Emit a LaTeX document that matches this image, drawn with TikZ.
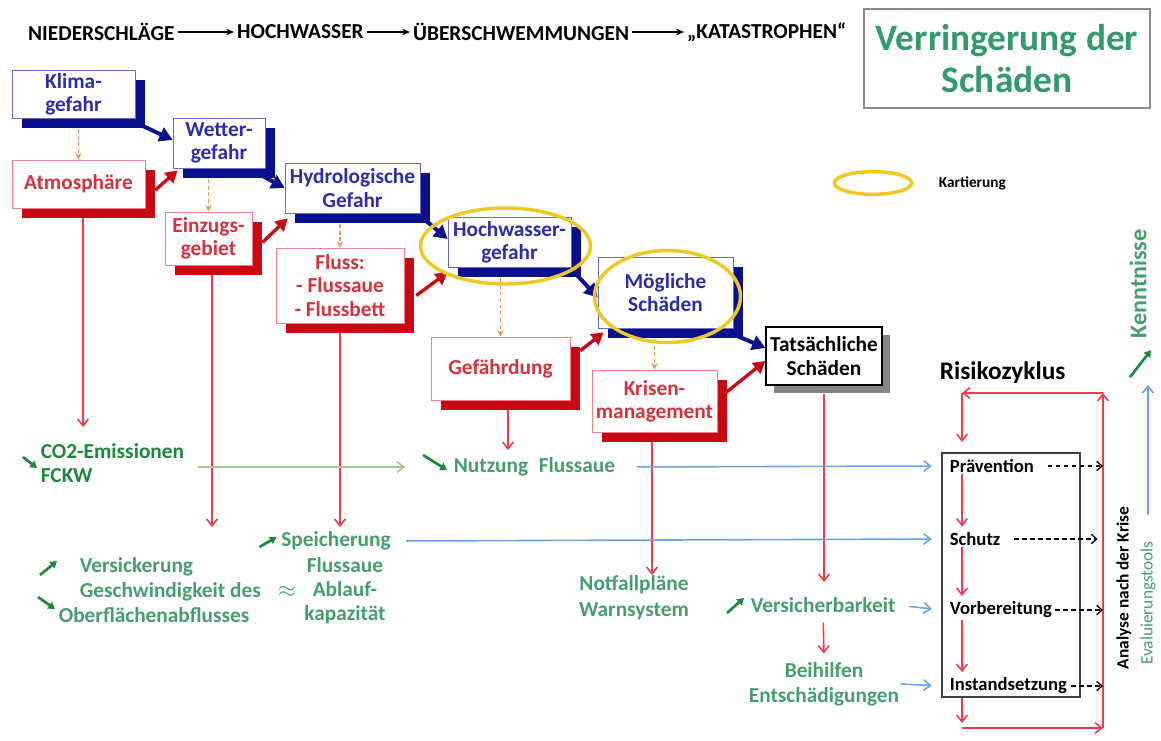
\documentclass[tikz,border=0pt]{standalone}
\usepackage{fontspec}
\setmainfont{Carlito}
\usetikzlibrary{arrows.meta,shadows,shapes.geometric}

\definecolor{chainblue}{RGB}{10,16,140}
\definecolor{bluetxt}{RGB}{45,45,170}
\definecolor{chainred}{RGB}{200,8,18}
\definecolor{redtxt}{RGB}{215,50,60}
\definecolor{redrim}{RGB}{240,130,135}
\definecolor{redline}{RGB}{238,60,75}
\definecolor{orangedash}{RGB}{240,150,85}
\definecolor{greentxt}{RGB}{70,158,112}
\definecolor{darkgreen}{RGB}{30,135,60}
\definecolor{titlegreen}{RGB}{50,155,105}
\definecolor{skyline}{RGB}{105,165,235}
\definecolor{oliveline}{RGB}{165,200,145}
\definecolor{kartyellow}{RGB}{238,200,35}

\tikzset{every picture/.style={line width=0.75pt}}
\tikzset{
	bluebox/.style={draw=bluetxt!70, line width=0.5pt, fill=white, text=bluetxt, align=center, inner sep=0pt,
		font=\fontsize{16}{17.5}\selectfont\bfseries,
		drop shadow={shadow xshift=7.5pt, shadow yshift=-7.5pt, fill=chainblue, opacity=1}},
	redbox/.style={draw=redrim, line width=0.5pt, fill=white, text=redtxt, align=center, inner sep=0pt,
		font=\fontsize{16}{17.5}\selectfont\bfseries,
		drop shadow={shadow xshift=7.5pt, shadow yshift=-7.5pt, fill=chainred, opacity=1}},
	bluearrow/.style={draw=chainblue, line width=3pt, -{Triangle[length=10pt,width=11pt]}},
	redarrow/.style={draw=chainred, line width=2.5pt, -{Triangle[length=9pt,width=10pt]}},
	orangearrow/.style={draw=orangedash, line width=1pt, dash pattern={on 3pt off 2pt}, -{Stealth[length=5pt,width=5pt]}},
	redthin/.style={draw=redline, line width=1.2pt, -{Straight Barb[length=5pt,width=8pt]}},
	skyarrow/.style={draw=skyline, line width=1.2pt, -{Straight Barb[length=5pt,width=8pt]}},
	dasharrow/.style={draw=black, line width=1pt, dash pattern={on 3.5pt off 2.5pt}, -{Straight Barb[length=4pt,width=7pt]}},
	trend/.style={draw=darkgreen, line width=2pt, -{Triangle[length=5pt,width=6pt]}},
	greenlbl/.style={text=greentxt, inner sep=1pt, font=\fontsize{16}{18}\selectfont\bfseries},
	cyclbl/.style={anchor=west, inner sep=1pt, font=\fontsize{14}{16}\selectfont\bfseries},
	headtxt/.style={anchor=west, inner sep=2pt, font=\fontsize{16}{18}\selectfont\bfseries},
	headarrow/.style={line width=1.2pt, -{Stealth[length=6pt,width=5pt]}},
	kartring/.style={draw=kartyellow, line width=2.6pt},
}

\begin{document}
\begin{tikzpicture}[x=0.75pt,y=0.75pt,yscale=-1,xscale=1]
	\useasboundingbox (0,0) rectangle (1161,740);

	% Header
	\node[headtxt] (nieder) at (25,32) {NIEDERSCHLÄGE};
	\node[headtxt] (hochwH) at (234,32) {HOCHWASSER};
	\node[headtxt] (ueber) at (410,32) {ÜBERSCHWEMMUNGEN};
	\node[headtxt] (katas) at (684,32) {„KATASTROPHEN“};
	\draw[headarrow] (nieder) -- (hochwH);
	\draw[headarrow] (hochwH) -- (ueber);
	\draw[headarrow] (ueber) -- (katas);

	%Shape: Rectangle (title)
	\node[draw=black!45, line width=1pt, minimum width=214.5pt, minimum height=74.25pt, text=titlegreen, align=center,
		font=\fontsize{28}{32}\selectfont\bfseries] (verring) at (1007,58.5) {Verringerung der\\Schäden};

	% Legend
	\node[kartring, ellipse, minimum width=58pt, minimum height=17pt, inner sep=0pt] (legring) at (873,183) {};
	\node[anchor=west, inner sep=1pt, font=\fontsize{11.5}{13}\selectfont\bfseries] (legtxt) at (937,183) {Kartierung};

	% Chain boxes
	\node[bluebox, minimum width=92.25pt, minimum height=36pt] (klima) at (73.5,94) {Klima-\\gefahr};
	\node[bluebox, minimum width=69pt, minimum height=37.5pt] (wetter) at (219,143) {Wetter-\\gefahr};
	\node[redbox, minimum width=99.75pt, minimum height=36pt] (atmo) at (78.5,184) {Atmosphäre};
	\node[bluebox, minimum width=101.25pt, minimum height=37.5pt] (hydro) at (352.5,188) {Hydrologische\\Gefahr};
	\node[redbox, minimum width=65.25pt, minimum height=39.75pt] (einzug) at (208.5,238.5) {Einzugs-\\gebiet};
	\node[redbox, minimum width=96pt, minimum height=56.25pt] (fluss) at (340,285.5) {Fluss:\\- Flussaue\\- Flussbett};
	\node[bluebox, minimum width=92.25pt, minimum height=37.5pt] (hochw) at (509.5,242) {Hochwasser-\\gefahr};
	\node[redbox, minimum width=104.25pt, minimum height=47.25pt] (gefaehr) at (500.5,368.5) {Gefährdung};
	\node[bluebox, minimum width=101.25pt, minimum height=53.25pt] (moegl) at (665.5,292.5) {Mögliche\\Schäden};
	\node[redbox, minimum width=93.75pt, minimum height=46.5pt] (krisen) at (654.5,401) {Krisen-\\management};
	\node[draw=black, line width=0.8pt, fill=white, align=center, inner sep=0pt, minimum width=87pt, minimum height=43.5pt,
		font=\fontsize{16}{17.5}\selectfont\bfseries,
		drop shadow={shadow xshift=6pt, shadow yshift=-6pt, fill=black!60, opacity=0.8}] (tats) at (824,356) {Tatsächliche\\Schäden};

	% Blue chain arrows
	\draw[bluearrow] ([shift={(4,6)}]klima.south east) -- ([shift={(0,-3)}]wetter.west);
	\draw[bluearrow] ([shift={(-2,8)}]wetter.south east) -- (hydro.west);
	\draw[bluearrow] ([shift={(4,6)}]hydro.south east) -- ([shift={(0,-3)}]hochw.west);
	\draw[bluearrow] ([shift={(4,6)}]hochw.south east) -- ([shift={(0,5)}]moegl.west);
	\draw[bluearrow] ([shift={(0,6)}]moegl.south east) -- ([shift={(0,-8)}]tats.west);

	% Red chain arrows
	\draw[redarrow] ([shift={(10,6)}]atmo.east) -- ([shift={(5,2)}]wetter.south west);
	\draw[redarrow] ([shift={(10,4)}]einzug.east) -- ([shift={(3,5)}]hydro.south west);
	\draw[redarrow] ([shift={(12,10)}]fluss.east) -- ([shift={(0,5)}]hochw.south west);
	\draw[redarrow] ([shift={(10,14)}]gefaehr.north east) -- ([shift={(6,4)}]moegl.south west);
	\draw[redarrow] ([shift={(8,-8)}]krisen.east) -- ([shift={(0,5)}]tats.west);

	% Orange dashed arrows
	\draw[orangearrow, shorten <=8pt] (atmo.north |- klima.south) -- (atmo.north);
	\draw[orangearrow, shorten <=8pt] (einzug.north |- wetter.south) -- (einzug.north);
	\draw[orangearrow, shorten <=8pt] (fluss.north |- hydro.south) -- (fluss.north);
	\draw[orangearrow, shorten <=8pt] (gefaehr.north |- hochw.south) -- (gefaehr.north);
	\draw[orangearrow, shorten <=8pt] (krisen.north |- moegl.south) -- (krisen.north);

	% Mapping rings
	\draw[kartring] ([shift={(-4,4)}]hochw.center) ellipse [x radius=85, y radius=38];
	\draw[kartring] ([shift={(2,4)}]moegl.center) ellipse [x radius=73, y radius=46];

	% Text Node
	\node[anchor=west, inner sep=1pt, text=darkgreen, align=left, font=\fontsize{16}{18}\selectfont\bfseries] (co2) at (39,463) {CO2-Emissionen\\FCKW};
	\node[greenlbl, anchor=west] (nutzung) at (452,467) {Nutzung\enspace Flussaue};
	\node[greenlbl] (speicher) at (336,541) {Speicherung};
	\node[greenlbl, align=center] (ablauf) at (345,591) {Flussaue\\Ablauf-\\kapazität};
	\node[greenlbl, anchor=west] (versick) at (78,567) {Versickerung};
	\node[greenlbl, anchor=west] (geschw) at (78,592) {Geschwindigkeit des};
	\node[greenlbl, anchor=west] (oberfl) at (57,615) {Oberflächenabflusses};
	\node[greenlbl] (approx) at (287,592) {$\approx$};
	\node[greenlbl, align=center, font=\fontsize{16}{19.5}\selectfont\bfseries] (notfall) at (634,598) {Notfallpläne\\Warnsystem};
	\node[greenlbl, anchor=west] (versich) at (749,605) {Versicherbarkeit};
	\node[greenlbl, align=center, font=\fontsize{16}{19}\selectfont\bfseries] (beihilf) at (824,684) {Beihilfen\\Entschädigungen};

	% Trend arrows
	\draw[trend] ([shift={(-16,-6)}]co2.west) -- ([shift={(-2,5)}]co2.west);
	\draw[trend] ([shift={(-29,-12)}]nutzung.west) -- ([shift={(-5,3)}]nutzung.west);
	\draw[trend] ([shift={(-20,6)}]speicher.west) -- ([shift={(-3,-4)}]speicher.west);
	\draw[trend] ([shift={(-38,8)}]versick.west) -- ([shift={(-21,-6)}]versick.west);
	\draw[trend] ([shift={(-19,-18)}]oberfl.west) -- ([shift={(-2,-6)}]oberfl.west);
	\draw[trend] ([shift={(-22,8)}]versich.west) -- ([shift={(-5,-7)}]versich.west);

	% Arrow ends
	\coordinate (atmoEnd) at (83,427);
	\coordinate (einzEnd) at (212,527);
	\coordinate (flussEnd) at (340,527);
	\coordinate (gefEnd) at (508,450);
	\coordinate (krisEnd) at (652,575);
	\coordinate (tatsEnd) at (824,582);

	% Red thin arrows
	\draw[redthin] ([shift={(4.5,10)}]atmo.south) -- (atmoEnd);
	\draw[redthin] ([shift={(3.5,10)}]einzug.south) -- (einzEnd);
	\draw[redthin] ([shift={(0,10)}]fluss.south) -- (flussEnd);
	\draw[redthin] ([shift={(7.5,10)}]gefaehr.south) -- (gefEnd);
	\draw[redthin] ([shift={(-2.5,10)}]krisen.south) -- (krisEnd);
	\draw[redthin] ([shift={(0,8)}]tats.south) -- (tatsEnd);
	\draw[redthin, shorten <=6pt, shorten >=5pt] (versich.south) -- (beihilf.north);

	% Olive arrow
	\draw[draw=oliveline, line width=1.2pt, -{Straight Barb[length=5pt,width=8pt]}] ([shift={(12,4)}]co2.east) -- ([shift={(-47,0)}]nutzung.west);

	% Risk cycle
	\node[anchor=west, inner sep=1pt, font=\fontsize{19}{21}\selectfont\bfseries] (risiko) at (938,373) {Risikozyklus};
	\node[draw=black!75, line width=1.5pt, minimum width=103.5pt, minimum height=183pt, inner sep=0pt] (cycbox) at (1011,575) {};
	\node[cyclbl] (praev) at (948,466) {Prävention};
	\node[cyclbl] (schutz) at (948,539) {Schutz};
	\node[cyclbl] (vorb) at (948,610) {Vorbereitung};
	\node[cyclbl] (inst) at (948,686) {Instandsetzung};

	\draw[redthin, shorten >=3pt] ([shift={(14,0)}]praev.south west) -- ([shift={(14,0)}]schutz.north west);
	\draw[redthin, shorten >=3pt] ([shift={(14,0)}]schutz.south west) -- ([shift={(14,0)}]vorb.north west);
	\draw[redthin, shorten >=3pt] ([shift={(14,0)}]vorb.south west) -- ([shift={(14,0)}]inst.north west);

	\coordinate (loopTL) at (962,393);
	\coordinate (loopTR) at (1103,393);
	\coordinate (loopBL) at (962,728);
	\coordinate (loopBR) at (1103,728);
	\draw[redthin] (cycbox.south -| loopTL) -- ([shift={(0,-5)}]loopBL);
	\draw[redthin] (loopBL) -- (loopBR);
	\draw[redthin] (loopBR) -- (loopTR);
	\draw[redthin] (loopTR) -- (loopTL);
	\draw[redthin] (loopTL) -- ([shift={(0,49)}]loopTL);

	\draw[dasharrow, shorten <=9pt] (praev.east) -- (loopTR |- praev.east);
	\draw[dasharrow, shorten <=9pt, shorten >=4pt] (schutz.east) -- (loopTR |- schutz.east);
	\draw[dasharrow, shorten <=1pt] (vorb.east) -- (loopTR |- vorb.east);
	\draw[dasharrow, shorten <=1.5pt] (inst.east) -- (loopTR |- inst.east);

	% Inputs into the cycle
	\draw[skyarrow, shorten <=15pt, shorten >=7pt] (nutzung.east) -- (cycbox.west |- praev.west);
	\draw[skyarrow, shorten <=10pt, shorten >=7pt] (speicher.east) -- (cycbox.west |- schutz.west);
	\draw[skyarrow, shorten <=9pt, shorten >=7pt] (versich.east) -- (cycbox.west |- vorb.west);
	\draw[skyarrow, shorten >=7pt] (beihilf.east) -- (cycbox.west |- inst.west);

	% Rotated labels
	\node[rotate=90, inner sep=1pt, font=\fontsize{13}{15}\selectfont\bfseries] (analyse) at (1124,588) {Analyse nach der Krise};
	\node[rotate=90, inner sep=1pt, text=greentxt, font=\fontsize{13}{15}\selectfont] (evalu) at (1148,603) {Evaluierungstools};
	\node[rotate=90, inner sep=1pt, text=greentxt, font=\fontsize{18}{20}\selectfont\bfseries] (kennt) at (1138,284) {Kenntnisse};
	\coordinate (evalTop) at (1148,385);
	\draw[skyarrow] ([shift={(0,-25)}]evalu.east) -- (evalTop);
	\draw[trend] ([shift={(-8,37)}]kennt.west) -- ([shift={(13,10)}]kennt.west);

\end{tikzpicture}
\end{document}
